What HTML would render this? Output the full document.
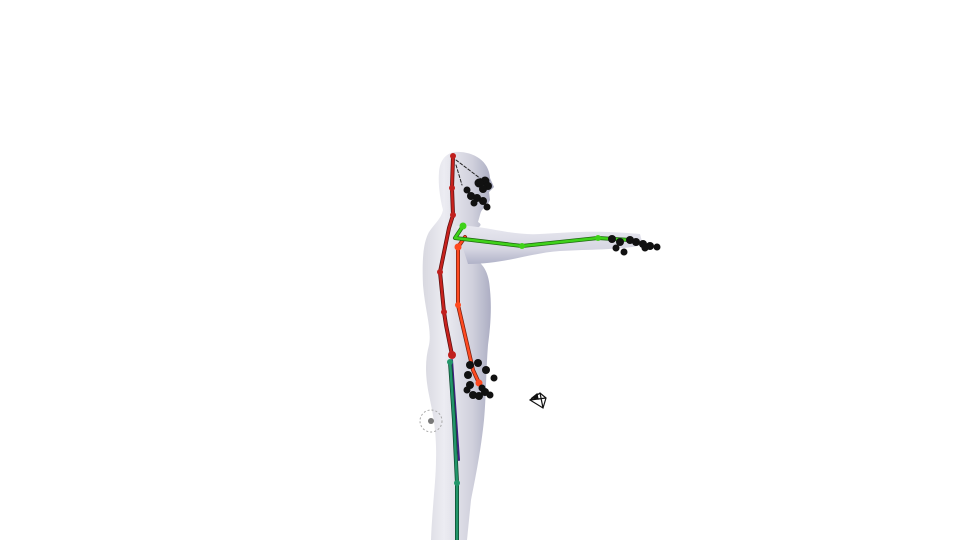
<!DOCTYPE html>
<html><head><meta charset="utf-8"><style>
html,body{margin:0;padding:0;background:#fff;width:960px;height:540px;overflow:hidden}
</style></head><body>
<svg width="960" height="540" viewBox="0 0 960 540" xmlns="http://www.w3.org/2000/svg">
<defs>
<linearGradient id="skin" x1="0" x2="1" y1="0" y2="0">
<stop offset="0" stop-color="#d8d8e0"/><stop offset="0.3" stop-color="#ececf2"/><stop offset="0.7" stop-color="#d0d0dc"/><stop offset="1" stop-color="#a6a8bf"/>
</linearGradient>
<linearGradient id="armg" x1="0" x2="0" y1="0" y2="1">
<stop offset="0" stop-color="#e8e8f0"/><stop offset="0.6" stop-color="#d6d6e2"/><stop offset="1" stop-color="#b0b2c8"/>
</linearGradient>
</defs>
<g>
<path fill="url(#skin)" d="M455,152 C472,151 489,160 490,178 L494,187 L489,192 L490,200 L487,206 C482,209 481,211 480,215 L478,222 C485,226 476,228 471,232 L473,258 C483,263 489,272 490,290 C492,310 490,330 488,345 C486,370 486,400 484,420 C481,450 475,480 471,500 L467,540 L431,540 C432,510 436,480 436,460 C437,430 432,410 429,395 C425,375 425,360 429,345 C432,330 425,310 423,285 C422,260 423,243 429,232 C435,223 441,219 443,210 C440,198 438,185 439,172 C440,159 447,153 455,152 Z"/>
<path fill="url(#armg)" d="M456,226 C480,224 510,236 540,234 C570,232 600,230 640,234 L643,245 C620,250 595,249 560,251 C530,253 505,264 468,264 Z"/>
</g>
<g fill="none" stroke-linecap="round" stroke-linejoin="round">
<polyline stroke="#5a1010" stroke-width="4" points="453,156 452,188 453,215 449,228 440,272 444,312 446,325 452,355"/>
<polyline stroke="#c8221e" stroke-width="2.5" points="453,156 452,188 453,215 449,228 440,272 444,312 446,325 452,355"/>
<polyline stroke="#7a2010" stroke-width="4" points="465,237 458,247 458,305 473,370 479,383"/>
<polyline stroke="#ff4a20" stroke-width="2.5" points="465,237 458,247 458,305 473,370 479,383"/>
<polyline stroke="#1e6a10" stroke-width="4" points="463,226 455,238 522,246 598,238 630,240"/>
<polyline stroke="#3fd21a" stroke-width="2.5" points="463,226 455,238 522,246 598,238 630,240"/>
<polyline stroke="#402080" stroke-width="2" points="452,360 459,460"/>
<polyline stroke="#0e4a30" stroke-width="4" points="450,362 454,420 457,483 457,540"/>
<polyline stroke="#22966a" stroke-width="2.5" points="450,362 454,420 457,483 457,540"/>
<line stroke="#222" stroke-width="1" stroke-dasharray="3,2" x1="456" y1="160" x2="485" y2="182"/>
<line stroke="#222" stroke-width="1" stroke-dasharray="3,2" x1="456" y1="165" x2="462" y2="185"/>
</g>
<g>
<circle cx="453" cy="156" r="3" fill="#c0201e"/><circle cx="452" cy="188" r="3" fill="#c0201e"/><circle cx="453" cy="215" r="3" fill="#c0201e"/>
<circle cx="440" cy="272" r="3" fill="#c0201e"/><circle cx="444" cy="312" r="3" fill="#c0201e"/><circle cx="452" cy="355" r="4" fill="#c0201e"/>
<circle cx="458" cy="247" r="3.5" fill="#ff4a20"/><circle cx="458" cy="305" r="3" fill="#ff4a20"/><circle cx="479" cy="383" r="3.5" fill="#ff4a20"/>
<circle cx="463" cy="226" r="3.5" fill="#3fd21a"/><circle cx="522" cy="246" r="3" fill="#3fd21a"/><circle cx="598" cy="238" r="3" fill="#3fd21a"/>
<circle cx="450" cy="362" r="3" fill="#22966a"/><circle cx="457" cy="483" r="3" fill="#22966a"/>
</g>
<g fill="#111">
<circle cx="485" cy="181" r="4.5"/><circle cx="479" cy="183" r="4.5"/><circle cx="488" cy="186" r="4"/><circle cx="483" cy="189" r="4"/>
<circle cx="467" cy="190" r="3.5"/><circle cx="471" cy="196" r="4"/><circle cx="477" cy="198" r="4"/><circle cx="483" cy="201" r="4"/><circle cx="487" cy="207" r="3.5"/><circle cx="474" cy="203" r="3.5"/>
</g>
<g fill="#111">
<circle cx="612" cy="239" r="4"/><circle cx="620" cy="242" r="4"/><circle cx="630" cy="240" r="4"/><circle cx="636" cy="242" r="4"/><circle cx="643" cy="244" r="4"/><circle cx="650" cy="246" r="4"/><circle cx="657" cy="247" r="3.5"/><circle cx="616" cy="248" r="3.5"/><circle cx="624" cy="252" r="3.5"/><circle cx="645" cy="248" r="3.5"/>
</g>
<g fill="#111">
<circle cx="470" cy="365" r="4"/><circle cx="478" cy="363" r="4"/><circle cx="486" cy="370" r="4"/><circle cx="494" cy="378" r="3.5"/><circle cx="468" cy="375" r="4"/><circle cx="470" cy="385" r="4"/><circle cx="473" cy="395" r="4"/><circle cx="479" cy="396" r="4"/><circle cx="485" cy="392" r="4"/><circle cx="490" cy="395" r="3.5"/><circle cx="482" cy="388" r="3.5"/><circle cx="467" cy="390" r="3.5"/>
</g>
<g fill="none" stroke="#111" stroke-width="1.2">
<path d="M530,400 L540,393 L546,398 L543,408 Z M530,400 L546,398 M540,393 L543,408"/>
<path d="M532,398 L537,394 L538,399 Z" fill="#111"/>
</g>
<g>
<circle cx="431" cy="421" r="11" fill="none" stroke="#aaa" stroke-width="1" stroke-dasharray="2,2"/>
<circle cx="431" cy="421" r="3" fill="#777"/>
</g>
</svg>
</body></html>
